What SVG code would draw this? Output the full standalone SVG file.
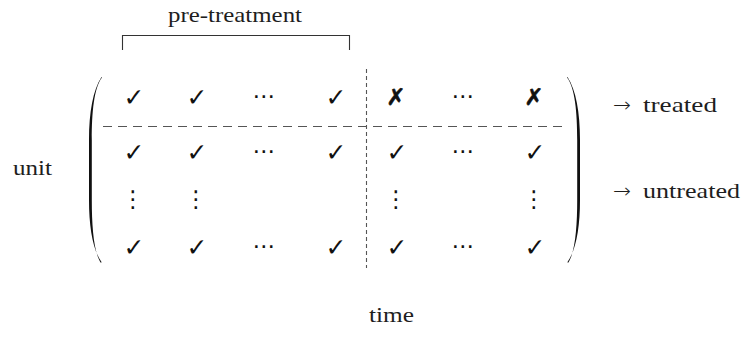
<svg xmlns="http://www.w3.org/2000/svg" width="750" height="340" viewBox="0 0 750 340">
  <style>
    .lbl { font-family: "Liberation Serif", "DejaVu Serif", serif; font-size: 21px; fill: #1e1e1e; }
    .arr { font-family: "DejaVu Sans", sans-serif; font-size: 20px; font-weight: 200; fill: #1e1e1e; }
    .sym { font-family: "DejaVu Sans", sans-serif; font-size: 25px; fill: #111; text-anchor: middle; }
    .cross { font-family: "DejaVu Sans", sans-serif; font-size: 23px; fill: #111; stroke: #111; stroke-width: 0.6; text-anchor: middle; }
    .dots { font-family: "DejaVu Sans", sans-serif; font-size: 23px; fill: #111; text-anchor: middle; }
    .paren { fill: #111; stroke: none; }
    .bracket { fill: none; stroke: #333; stroke-width: 1.1; }
    .hdash { stroke: #555; stroke-width: 1.1; stroke-dasharray: 9 6; fill: none; }
    .vdash { stroke: #555; stroke-width: 1.1; stroke-dasharray: 4 3; fill: none; }
  </style>

  <!-- pre-treatment bracket and label -->
  <g id="pretreatment">
    <path class="bracket" d="M122.5,50 V35.5 H349.5 V50"/>
    <text class="lbl" x="168" y="22" textLength="134" lengthAdjust="spacingAndGlyphs">pre-treatment</text>
  </g>

  <!-- axis labels -->
  <g id="unit-label"><text class="lbl" x="13" y="175" textLength="39" lengthAdjust="spacingAndGlyphs">unit</text></g>
  <g id="time-label"><text class="lbl" x="369" y="322" textLength="45" lengthAdjust="spacingAndGlyphs">time</text></g>
  <g id="treated-label">
    <text class="arr" x="613" y="112" textLength="18" lengthAdjust="spacingAndGlyphs">→</text>
    <text class="lbl" x="643" y="112" textLength="74" lengthAdjust="spacingAndGlyphs">treated</text>
  </g>
  <g id="untreated-label">
    <text class="arr" x="613" y="198" textLength="18" lengthAdjust="spacingAndGlyphs">→</text>
    <text class="lbl" x="643" y="198" textLength="97" lengthAdjust="spacingAndGlyphs">untreated</text>
  </g>

  <!-- matrix delimiters -->
  <g id="left-paren">
    <path class="paren" d="M101.5,77 C93,90 89,112 89,140 V200 C89,228 93,250 101.5,262 L101,263 C94,253 91.8,228 91.8,200 V140 C91.8,112 94,88 102,77.5 Z"/>
  </g>
  <g id="right-paren">
    <path class="paren" d="M567.5,77 C576,90 580,112 580,140 V200 C580,228 576,250 567.5,262 L568,263 C575,253 577.2,228 577.2,200 V140 C577.2,112 575,88 567,77.5 Z"/>
  </g>

  <!-- separators -->
  <g id="separators">
    <line class="hdash" x1="103" y1="126.5" x2="567" y2="126.5"/>
    <line class="vdash" x1="366.5" y1="69" x2="366.5" y2="268"/>
  </g>

  <!-- row 1: treated unit -->
  <g id="row-treated">
    <text class="sym" x="134" y="106">✓</text>
    <text class="sym" x="197" y="106">✓</text>
    <text class="dots" x="264" y="104">⋯</text>
    <text class="sym" x="336" y="106">✓</text>
    <text class="cross" x="396" y="105">✗</text>
    <text class="dots" x="463" y="104">⋯</text>
    <text class="cross" x="534" y="105">✗</text>
  </g>

  <!-- rows 2-4: untreated units -->
  <g id="row-untreated-1">
    <text class="sym" x="134" y="161">✓</text>
    <text class="sym" x="197" y="161">✓</text>
    <text class="dots" x="264" y="159">⋯</text>
    <text class="sym" x="336" y="161">✓</text>
    <text class="sym" x="397" y="161">✓</text>
    <text class="dots" x="463" y="159">⋯</text>
    <text class="sym" x="535" y="161">✓</text>
  </g>
  <g id="row-untreated-vdots">
    <text class="dots" x="133" y="207">⋮</text>
    <text class="dots" x="196" y="207">⋮</text>
    <text class="dots" x="396" y="207">⋮</text>
    <text class="dots" x="534" y="207">⋮</text>
  </g>
  <g id="row-untreated-n">
    <text class="sym" x="134" y="256">✓</text>
    <text class="sym" x="197" y="256">✓</text>
    <text class="dots" x="264" y="254">⋯</text>
    <text class="sym" x="336" y="256">✓</text>
    <text class="sym" x="397" y="256">✓</text>
    <text class="dots" x="463" y="254">⋯</text>
    <text class="sym" x="535" y="256">✓</text>
  </g>
</svg>
